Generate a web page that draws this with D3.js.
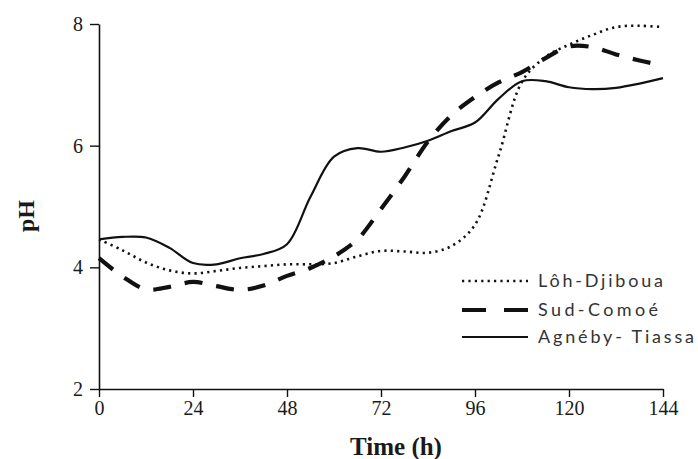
<!DOCTYPE html>
<html>
<head>
<meta charset="utf-8">
<script src="https://cdn.jsdelivr.net/npm/d3@7"></script>
<style>
  html, body { margin: 0; padding: 0; background: #fff; }
  svg { display: block; }
</style>
</head>
<body>
<svg id="chart" width="698" height="459"></svg>
<script>
// ---- data ----
const times = [0, 6, 12, 18, 24, 30, 36, 42, 48, 54, 60, 66, 72, 78, 84, 90, 96, 102, 108, 114, 120, 126, 132, 138, 144];
const lohDjiboua = [4.46, 4.28, 4.08, 3.95, 3.90, 3.94, 3.99, 4.02, 4.05, 4.05, 4.07, 4.18, 4.27, 4.26, 4.24, 4.35, 4.70, 5.83, 7.05, 7.46, 7.66, 7.82, 7.95, 7.97, 7.95];
const sudComoe = [4.15, 3.85, 3.64, 3.68, 3.76, 3.69, 3.63, 3.70, 3.86, 3.99, 4.18, 4.46, 4.96, 5.49, 6.07, 6.50, 6.80, 7.04, 7.21, 7.44, 7.63, 7.62, 7.50, 7.40, 7.32];
const agnebyTiassa = [4.46, 4.50, 4.49, 4.32, 4.07, 4.05, 4.15, 4.22, 4.38, 5.16, 5.82, 5.96, 5.90, 5.97, 6.08, 6.24, 6.38, 6.77, 7.06, 7.06, 6.96, 6.93, 6.95, 7.02, 7.11];
const seriesNames = ["Lôh-Djiboua", "Sud-Comoé", "Agnéby- Tiassa"];
const xTicks = [0, 24, 48, 72, 96, 120, 144];
const yTicks = [2, 4, 6, 8];
const xTitle = "Time (h)";
const yTitle = "pH";

// ---- drawing ----
const svg = d3.select("#chart");
const x = d3.scaleLinear().domain([0, 144]).range([99, 663]);
const y = d3.scaleLinear().domain([2, 8]).range([389, 24]);

const styles = [
  { dash: "2.2,4.2", width: 2.6 },
  { dash: "18,14", width: 4.2 },
  { dash: null, width: 2.2 }
];
const allSeries = [lohDjiboua, sudComoe, agnebyTiassa];

const line = d3.line()
  .x((d, i) => x(times[i]))
  .y(d => y(d))
  .curve(d3.curveCatmullRom.alpha(0.5));

allSeries.forEach((vals, k) => {
  svg.append("path")
    .datum(vals)
    .attr("d", line)
    .attr("fill", "none")
    .attr("stroke", "#111")
    .attr("stroke-width", styles[k].width)
    .attr("stroke-dasharray", styles[k].dash);
});

// axes
const xAxis = d3.axisBottom(x).tickValues(xTicks).tickSize(8).tickSizeOuter(0).tickPadding(4).tickFormat(d3.format("d"));
const yAxis = d3.axisLeft(y).tickValues(yTicks).tickSize(9).tickSizeOuter(0).tickPadding(7).tickFormat(d3.format("d"));

const gx = svg.append("g").attr("transform", "translate(0,389)").call(xAxis);
const gy = svg.append("g").attr("transform", "translate(99,0)").call(yAxis);

[gx, gy].forEach(g => {
  g.select(".domain").attr("stroke", "#111").attr("stroke-width", 1.6);
  g.selectAll(".tick line").attr("stroke", "#111").attr("stroke-width", 1.4);
  g.selectAll(".tick text")
    .attr("fill", "#1a1a1a")
    .style("font-family", "'Liberation Serif', 'Times New Roman', serif")
    .style("font-size", "20px");
});

// axis titles
svg.append("text")
  .attr("x", 396).attr("y", 455)
  .attr("text-anchor", "middle")
  .style("font-family", "'Liberation Serif', 'Times New Roman', serif")
  .style("font-weight", "bold")
  .style("font-size", "25px")
  .attr("fill", "#1a1a1a")
  .text(xTitle);

svg.append("text")
  .attr("transform", "translate(34,216) rotate(-90)")
  .attr("text-anchor", "middle")
  .style("font-family", "'Liberation Serif', 'Times New Roman', serif")
  .style("font-weight", "bold")
  .style("font-size", "24px")
  .attr("fill", "#1a1a1a")
  .text(yTitle);

// legend
const legendRows = [281, 310, 337];
const textLens = [125, 120, 156];
seriesNames.forEach((name, k) => {
  const ly = legendRows[k];
  svg.append("line")
    .attr("x1", 462).attr("x2", 528)
    .attr("y1", ly).attr("y2", ly)
    .attr("stroke", "#111")
    .attr("stroke-width", styles[k].width)
    .attr("stroke-dasharray", k === 1 ? "24,18" : styles[k].dash);
  svg.append("text")
    .attr("x", 538).attr("y", ly + 6)
    .attr("textLength", textLens[k])
    .attr("lengthAdjust", "spacing")
    .style("font-family", "Lato, 'Open Sans', sans-serif")
    .style("font-size", "18px")
    .attr("fill", "#333")
    .text(name);
});
</script>
</body>
</html>
